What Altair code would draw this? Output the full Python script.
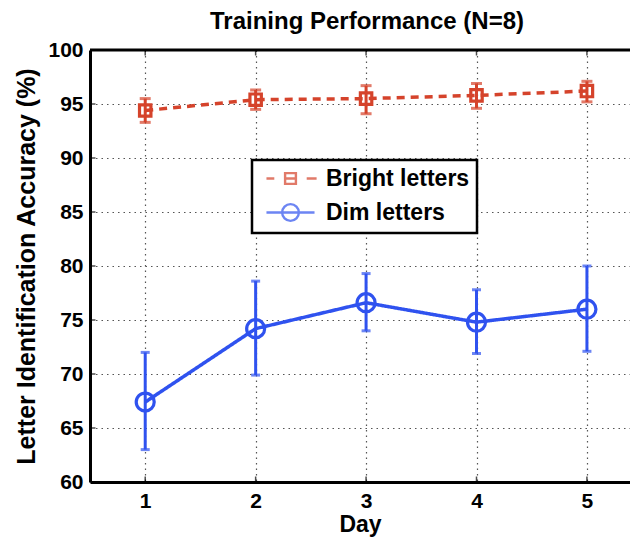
import altair as alt
import pandas as pd

# ---- data ----
days = [1, 2, 3, 4, 5]
series_names = ["Bright letters", "Dim letters"]

bright_mean = [94.4, 95.4, 95.5, 95.8, 96.2]
bright_low = [93.3, 94.5, 94.1, 94.6, 95.2]
bright_high = [95.5, 96.3, 96.7, 96.9, 97.1]

dim_mean = [67.4, 74.2, 76.6, 74.8, 76.0]
dim_low = [63.0, 69.9, 74.0, 71.9, 72.1]
dim_high = [72.0, 78.6, 79.3, 77.8, 80.0]

y_ticks = [60, 65, 70, 75, 80, 85, 90, 95, 100]
x_domain = [0.5, 5.39]
y_domain = [60, 100]

bright_df = pd.DataFrame(
    {"day": days, "series": "Bright letters", "acc": bright_mean,
     "lo": bright_low, "hi": bright_high}
)
dim_df = pd.DataFrame(
    {"day": days, "series": "Dim letters", "acc": dim_mean,
     "lo": dim_low, "hi": dim_high}
)
all_df = pd.concat([bright_df, dim_df], ignore_index=True)

frame_df = pd.DataFrame({"day": days})
top_df = pd.DataFrame({"acc": [y_domain[1]]})
yt_df = pd.DataFrame({"acc": y_ticks})

RED = "#d5432b"
BLUE = "#2f52ef"
FONT = "Liberation Sans"

xscale = alt.Scale(domain=x_domain, nice=False, zero=False)
yscale = alt.Scale(domain=y_domain, nice=False, zero=False)

x_enc = alt.X(
    "day:Q",
    scale=xscale,
    axis=alt.Axis(
        values=days, format="d", title="Day", grid=True,
        labelPadding=8, titlePadding=2, titleFontSize=23,
    ),
)
y_enc = alt.Y(
    "acc:Q",
    scale=yscale,
    axis=alt.Axis(
        values=y_ticks, title="Letter Identification Accuracy (%)", grid=True,
        labelPadding=7, titlePadding=8, titleFontSize=25,
    ),
)


def series_layers(data, color, dash, cap, shape, msize):
    b = alt.Chart(data)
    line = b.mark_line(strokeWidth=3.5, color=color, strokeDash=dash).encode(
        x=x_enc, y=y_enc
    )
    rule = b.mark_rule(strokeWidth=3, color=color).encode(
        x="day:Q", y="lo:Q", y2="hi:Q"
    )
    lo = b.mark_tick(orient="horizontal", thickness=3, size=cap, color=color).encode(
        x="day:Q", y="lo:Q"
    )
    hi = b.mark_tick(orient="horizontal", thickness=3, size=cap, color=color).encode(
        x="day:Q", y="hi:Q"
    )
    pts = b.mark_point(
        filled=False, strokeWidth=3.2, opacity=1, color=color, shape=shape, size=msize
    ).encode(x="day:Q", y="acc:Q")
    return [line, rule, lo, hi, pts]


bright_layers = series_layers(bright_df, RED, [8, 6], 11, "square", 130)
dim_layers = series_layers(dim_df, BLUE, [1, 0], 9, "circle", 324)

bright_path = "M-2.67,0H-1.8 M-0.6,-0.6H0.6V0.6H-0.6Z M-0.6,0H0.6 M1.8,0H2.9"
dim_path = "M-2.67,0H2.67 M-0.93,0A0.93,0.93 0 1,0 0.93,0A0.93,0.93 0 1,0 -0.93,0"

legend_def = alt.Legend(
    title=None,
    orient="none",
    legendX=162,
    legendY=110,
    symbolSize=324,
    symbolStrokeWidth=2.4,
    symbolOffset=20,
    labelOffset=24,
    labelFontSize=23,
    labelFont=FONT,
    labelFontWeight="bold",
    labelColor="black",
    padding=7,
    rowPadding=8,
    strokeColor="black",
    fillColor="white",
    symbolFillColor="transparent",
)

# legend-only layer: its points are pushed outside the clipped view
legend_layer = alt.Chart(all_df).mark_point(
    filled=False, strokeWidth=2, clip=True, yOffset=5000
).encode(
    x="day:Q",
    y="acc:Q",
    color=alt.Color(
        "series:N",
        scale=alt.Scale(domain=series_names, range=[RED, BLUE]),
        legend=legend_def,
    ),
    shape=alt.Shape(
        "series:N",
        scale=alt.Scale(domain=series_names, range=[bright_path, dim_path]),
        legend=legend_def,
    ),
)

top_rule = alt.Chart(top_df).mark_rule(color="black", strokeWidth=3).encode(
    y=alt.Y("acc:Q", scale=yscale)
)

tick_bottom = alt.Chart(frame_df).mark_tick(
    orient="vertical", color="black", size=5, thickness=1.5, yOffset=-3
).encode(x=alt.X("day:Q", scale=xscale), y=alt.datum(y_domain[0]))
tick_top = alt.Chart(frame_df).mark_tick(
    orient="vertical", color="black", size=5, thickness=1.5, yOffset=3
).encode(x=alt.X("day:Q", scale=xscale), y=alt.datum(y_domain[1]))
tick_left = alt.Chart(yt_df).mark_tick(
    orient="horizontal", color="black", size=5, thickness=1.5, xOffset=3
).encode(y=alt.Y("acc:Q", scale=yscale), x=alt.datum(x_domain[0]))

chart = (
    alt.layer(
        *bright_layers, *dim_layers, legend_layer,
        top_rule, tick_bottom, tick_top, tick_left
    )
    .properties(
        width=540,
        height=432,
        title=alt.TitleParams(
            "Training Performance (N=8)",
            fontSize=24,
            font=FONT,
            fontWeight="bold",
            color="black",
            anchor="middle",
            offset=5,
            dx=7,
        ),
        autosize=alt.AutoSizeParams(type="none"),
        padding={"left": 82, "top": 42, "right": 0, "bottom": 56},
    )
    .configure_view(stroke=None)
    .configure_legend(strokeWidth=2.5)
    .configure_axis(
        labelFont=FONT,
        titleFont=FONT,
        labelFontSize=21,
        titleFontSize=21,
        labelFontWeight="bold",
        titleFontWeight="bold",
        labelColor="black",
        titleColor="black",
        domainColor="black",
        domainWidth=3,
        tickSize=0,
        gridColor="#555555",
        gridDash=[1.5, 4],
        gridWidth=1.2,
        gridOpacity=1,
    )
)

chart.save("out.html", embed_options={"renderer": "svg", "actions": False})
